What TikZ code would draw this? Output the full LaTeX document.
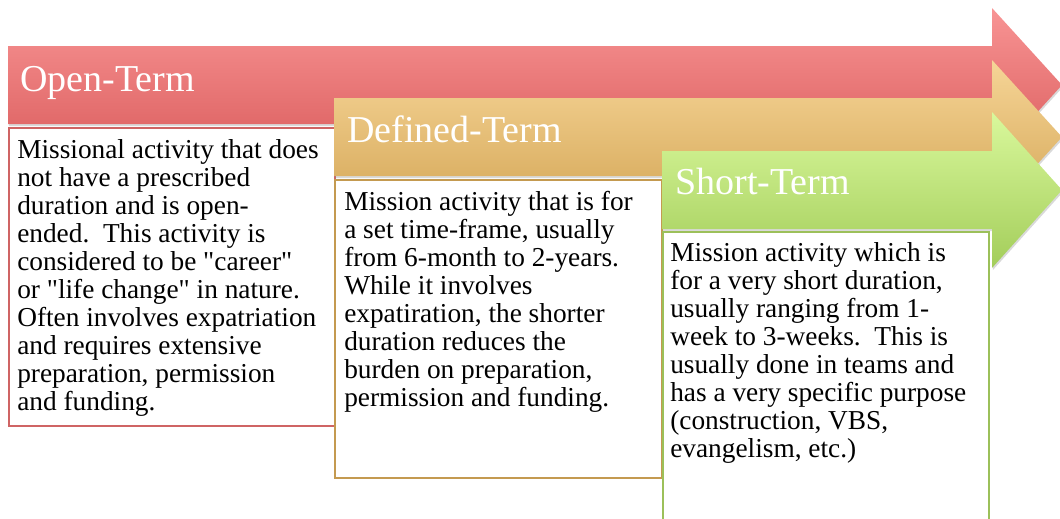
\documentclass[tikz,border=0pt]{standalone}
\usepackage{fontspec}
\setmainfont{Liberation Serif}[Ligatures=TeXOff]
\usepackage{tikz}
\usetikzlibrary{shadows, positioning}
\definecolor{openTop}{HTML}{F89494}
\definecolor{openBot}{HTML}{DA5C5C}
\definecolor{openLine}{HTML}{CF6464}
\definecolor{defTop}{HTML}{F6D597}
\definecolor{defBot}{HTML}{D4A656}
\definecolor{defLine}{HTML}{C49A50}
\definecolor{shortTop}{HTML}{D9F89C}
\definecolor{shortBot}{HTML}{A3CD5A}
\definecolor{shortLine}{HTML}{9CC05A}
\tikzstyle{bar} = [drop shadow={shadow xshift=0.6pt, shadow yshift=-1.6pt, opacity=0.3}]
\tikzstyle{title} = [anchor=base west, inner sep=0pt, text=white, font=\fontsize{28.5}{30}\selectfont]
\tikzstyle{box} = [anchor=north west, draw, fill=white, line width=1.2pt, inner sep=0pt]
\tikzstyle{desc} = [anchor=base west, inner sep=0pt, font=\fontsize{20.5}{21}\selectfont]
\newcommand{\lines}[1]{\parbox[t]{245pt}{\raggedright #1}}

\begin{document}
\begin{tikzpicture}[x=0.75pt, y=-0.75pt]
	\useasboundingbox (0,0) rectangle (1060,518);
	% open-term
	\path[bar, top color=openTop, bottom color=openBot] (8,46) -- (992,46) -- (992,8) -- (1062,85) -- (992,162) -- (992,124) -- (8,124) -- cycle;
	\node (opentitle) [title] at (20,91) {Open-Term};
	\node (openbox) [box, draw=openLine, minimum width=244.5pt, minimum height=223.5pt] at (8,127) {};
	\node (opentext) [desc] at (17,158) {\lines{Missional activity that does\\
		not have a prescribed\\
		duration and is open-\\
		ended.\ \ This activity is\\
		considered to be "career"\\
		or "life change" in nature.\\
		Often involves expatriation\\
		and requires extensive\\
		preparation, permission\\
		and funding.}};
	% defined-term
	\path[bar, top color=defTop, bottom color=defBot] (334,98) -- (992,98) -- (992,60) -- (1062,137) -- (992,214) -- (992,176) -- (334,176) -- cycle;
	\node (deftitle) [title] at (347,142) {Defined-Term};
	\node (defbox) [box, draw=defLine, minimum width=245.25pt, minimum height=223.5pt] at (334,179) {};
	\node (deftext) [desc] at (344,210) {\lines{Mission activity that is for\\
		a set time-frame, usually\\
		from 6-month to 2-years.\\
		While it involves\\
		expatiration, the shorter\\
		duration reduces the\\
		burden on preparation,\\
		permission and funding.}};
	% short-term
	\path[bar, top color=shortTop, bottom color=shortBot] (662,151) -- (992,151) -- (992,112) -- (1062,190) -- (992,268) -- (992,229) -- (662,229) -- cycle;
	\node (shorttitle) [title] at (675,194) {Short-Term};
	\node (shortbox) [box, draw=shortLine, minimum width=244.5pt, minimum height=218.25pt] at (662,231) {};
	\node (shorttext) [desc] at (670,261) {\lines{Mission activity which is\\
		for a very short duration,\\
		usually ranging from 1-\\
		week to 3-weeks.\ \ This is\\
		usually done in teams and\\
		has a very specific purpose\\
		(construction, VBS,\\
		evangelism, etc.)}};
\end{tikzpicture}
\end{document}
